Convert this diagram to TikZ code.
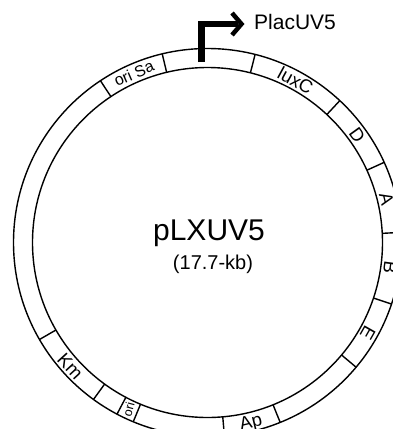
\documentclass[tikz,border=0pt]{standalone}
\usepackage{fontspec}
\setmainfont{Liberation Sans}
\begin{document}
\begin{tikzpicture}[x=1pt,y=1pt,
  ringline/.style={line width=1.4pt},
  lab/.style={inner sep=0pt, text height=13pt, text depth=0pt, font=\fontsize{18.5}{18.5}\selectfont},
  smalllab/.style={inner sep=0pt, text height=11.5pt, text depth=0pt, font=\fontsize{16}{16}\selectfont},
  tinylab/.style={inner sep=0pt, text height=8pt, text depth=0pt, font=\fontsize{12.5}{12.5}\selectfont},
  promoter/.style={line width=6.5pt, line join=miter},
  promtip/.style={line width=4.5pt, line join=miter},
]
\useasboundingbox (0,0) rectangle (393,-429);
\clip (0,0) rectangle (393,-429);
\coordinate (C) at (207.5,-242.5);
\draw[ringline] (C) circle[radius=194];
\draw[ringline] (C) circle[radius=175];
\foreach \a in {123.5,103.5,75.8,47,24.4,3,-18.5,-40,-68,-85,247.5,242.2,234,210}
  \draw[ringline] ([shift={(\a:175)}]C) -- ([shift={(\a:194)}]C);
% segment labels
\node[smalllab, rotate=23.5] (oriSa) at ([shift={(113.5:184.5)}]C) {ori Sa};
\node[lab, rotate=-28.5] (luxC) at ([shift={(61.5:184.5)}]C) {luxC};
\node[lab, rotate=-54.3] (D) at ([shift={(35.7:184.5)}]C) {D};
\node[lab, rotate=-76.3] (A) at ([shift={(13.7:184.5)}]C) {A};
\node[lab, rotate=-97.7] (B) at ([shift={(-7.7:184.5)}]C) {B};
\node[lab, rotate=-119.5] (E) at ([shift={(-29.5:184.5)}]C) {E};
\node[lab, rotate=13.5] (Ap) at ([shift={(-76.5:184.5)}]C) {Ap};
\node[tinylab, rotate=75] (ori) at ([shift={(244.85:184.5)}]C) {ori};
\node[lab, rotate=-47.4] (Km) at ([shift={(222:184.5)}]C) {Km};
% promoter
\coordinate (p0) at (201.5,-62);
\coordinate (p1) at (201.5,-24);
\coordinate (p2) at (238,-24);
\coordinate (t1) at (232,-13);
\coordinate (tip) at (241.5,-24);
\coordinate (t2) at (232,-35);
\draw[promoter] (p0) -- (p1) -- (p2);
\draw[promtip] (t1) -- (tip) -- (t2);
\node[anchor=base west, inner sep=0pt, font=\fontsize{21}{21}\selectfont] (plac) at (254,-29.7) {PlacUV5};
% centre
\node[anchor=base, inner sep=0pt, font=\fontsize{30}{30}\selectfont] (name) at (209,-240.7) {pLXUV5};
\node[inner sep=0pt, font=\fontsize{20}{20}\selectfont] (size) at (213,-264) {(17.7-kb)};
\end{tikzpicture}
\end{document}
